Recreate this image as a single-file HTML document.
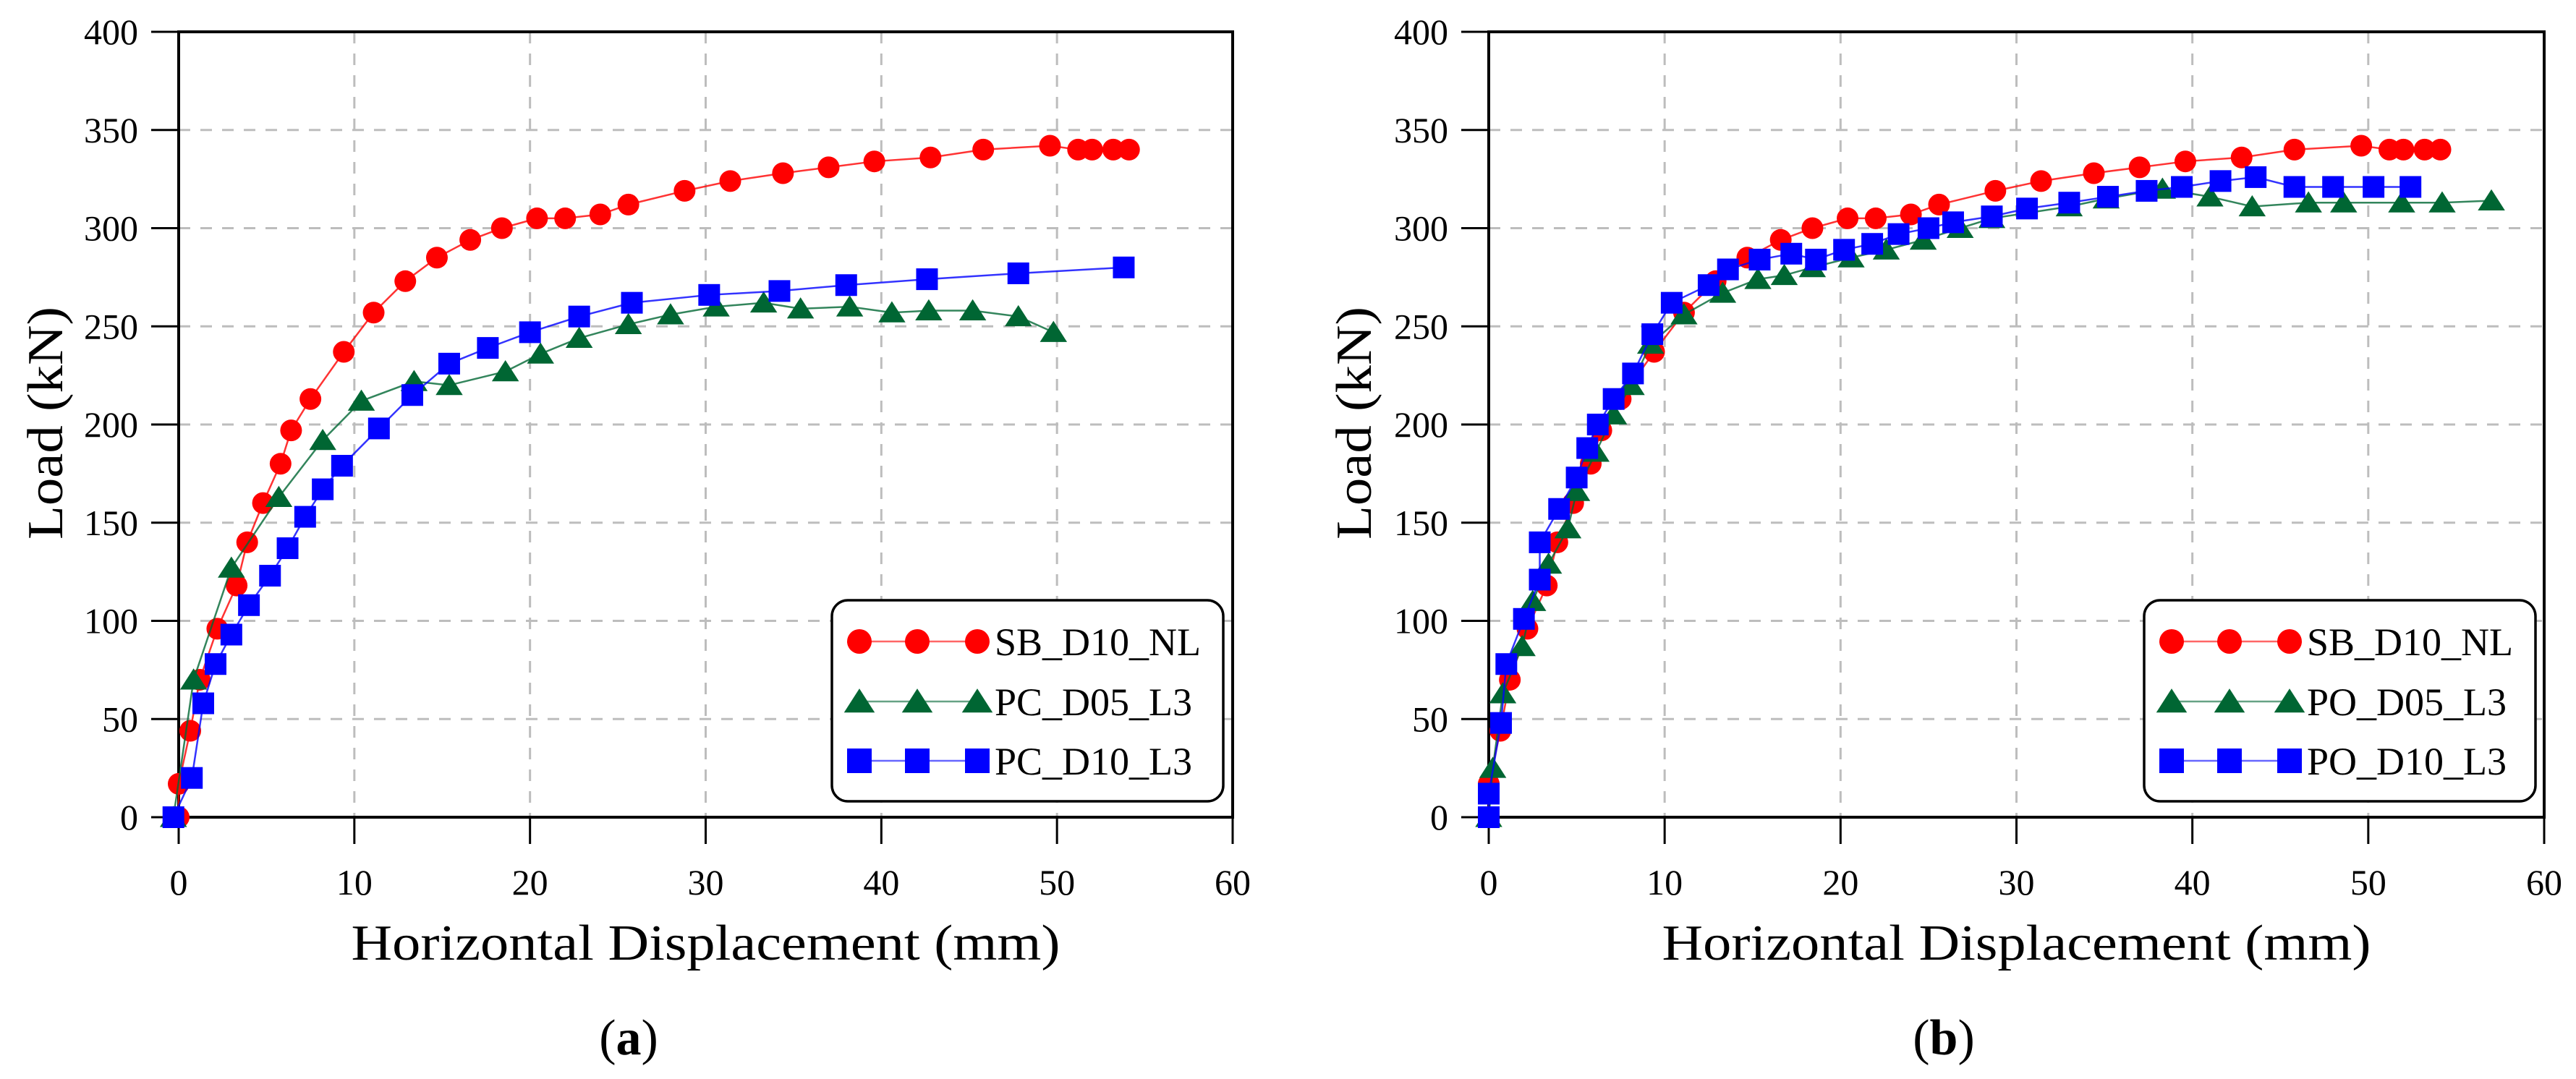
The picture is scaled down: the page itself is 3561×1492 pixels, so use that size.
<!DOCTYPE html>
<html><head><meta charset="utf-8"><style>
html,body{margin:0;padding:0;background:#fff;}
svg{display:block;}
text{font-family:"Liberation Serif",serif;fill:#000;}
</style></head><body>
<svg id="chart" width="3561" height="1492" viewBox="0 0 3561 1492" xmlns="http://www.w3.org/2000/svg"></svg>
<script>
// ---- data ----
const xTicks = [0,10,20,30,40,50,60];
const yTicks = [0,50,100,150,200,250,300,350,400];
const sbX = [0,0,0.66,1.2,2.2,3.3,3.9,4.8,5.8,6.4,7.5,9.4,11.1,12.9,14.7,16.6,18.4,20.4,22,24,25.6,28.8,31.4,34.4,37,39.6,42.8,45.8,49.6,51.2,52,53.2,54.1];
const sbY = [0,17,44,70,96,118,140,160,180,197,213,237,257,273,285,294,300,305,305,307,312,319,324,328,331,334,336,340,342,340,340,340,340];
const pc05X = [-0.3,0.85,3,5.7,8.2,10.4,13.4,15.4,18.6,20.6,22.8,25.6,28,30.6,33.3,35.4,38.2,40.6,42.7,45.2,47.8,49.8];
const pc05Y = [0,70,127,163,192,212,222,220,227,236,244,251,256,260,262,259,260,257,258,258,255,247];
const pc10X = [-0.3,0.75,1.4,2.1,3,4,5.2,6.2,7.2,8.2,9.3,11.4,13.3,15.4,17.6,20,22.8,25.8,30.2,34.2,38,42.6,47.8,53.8];
const pc10Y = [0,20,58,78,93,108,123,137,153,167,179,198,215,231,239,247,255,262,266,268,271,274,277,280];
const po05X = [0,0.23,0.8,1.9,2.5,3.4,4.5,5,6.1,7.1,8.1,9.2,11.1,13.3,15.3,16.8,18.4,20.6,22.6,24.7,26.8,28.6,33,35.1,38.3,41,43.4,46.6,48.6,51.9,54.2,57];
const po05Y = [0,25,63,87,110,129,147,166,186,205,220,241,256,267,274,276,280,285,289,294,300,305,311,315,320,316,311,313,313,313,313,314];
const po10X = [0,0,0.7,1,2,2.9,2.9,4,5,5.6,6.2,7.1,8.2,9.3,10.4,12.5,13.6,15.4,17.2,18.6,20.2,21.8,23.3,25,26.4,28.6,30.6,33,35.2,37.4,39.4,41.6,43.6,45.8,48,50.3,52.4];
const po10Y = [0,12,48,78,101,121,140,157,173,188,200,213,226,246,262,271,279,284,287,284,289,292,297,300,303,306,310,313,316,319,321,324,326,321,321,321,321];

const NS = "http://www.w3.org/2000/svg";
const svg = document.getElementById('chart');
function mk(tag, attrs, parent){
  const e = document.createElementNS(NS, tag);
  for (const k in attrs) e.setAttribute(k, attrs[k]);
  (parent||svg).appendChild(e);
  return e;
}
const Y0 = 1130, Y1 = 44;
const RED = '#ff0000', GREEN = '#006633', BLUE = '#0000ff';

function marker(g, type, cx, cy, color, s){
  let m;
  if (type === 'circle') m = mk('circle', {cx:cx, cy:cy, r:s, fill:color}, g);
  else if (type === 'square') m = mk('rect', {x:cx-s, y:cy-s, width:2*s, height:2*s, fill:color}, g);
  else m = mk('polygon', {points:`${cx},${cy-s*1.05} ${cx-s*1.25},${cy+s*0.9} ${cx+s*1.25},${cy+s*0.9}`, fill:color}, g);
  return m;
}

function panel(id, X0, X1, series, legendX, letter, letterX, yTitleX){
  const sx = v => X0 + (v/60)*(X1-X0);
  const sy = v => Y0 - (v/400)*(Y0-Y1);
  const g = mk('g', {});
  
  
  xTicks.forEach(t => { if (t>0 && t<60) {
    const l = mk('line', {x1:sx(t), x2:sx(t), y1:Y1, y2:Y0, stroke:'#bdbdbd', 'stroke-width':3, 'stroke-dasharray':'16 14'}, g);
    
    
  }});
  yTicks.forEach(t => { if (t>0 && t<400) {
    const l = mk('line', {x1:X0, x2:X1, y1:sy(t), y2:sy(t), stroke:'#bdbdbd', 'stroke-width':3, 'stroke-dasharray':'16 14'}, g);
    
    
  }});
  xTicks.forEach(t => {
    mk('line', {x1:sx(t), x2:sx(t), y1:Y0, y2:Y0+37, stroke:'#000', 'stroke-width':3}, g);
    const tx = mk('text', {x:sx(t), y:1237, 'font-size':50, 'text-anchor':'middle'}, g);
    tx.textContent = t;
    
    
  });
  yTicks.forEach(t => {
    mk('line', {x1:X0-38, x2:X0, y1:sy(t), y2:sy(t), stroke:'#000', 'stroke-width':3}, g);
    const tx = mk('text', {x:X0-56, y:sy(t)+17, 'font-size':50, 'text-anchor':'end'}, g);
    tx.textContent = t;
    
    
  });
  const fr = mk('rect', {x:X0, y:Y1, width:X1-X0, height:Y0-Y1, fill:'none', stroke:'#000', 'stroke-width':4}, g);
  
  
  series.forEach(s => {
    const sg = mk('g', {}, g);
    
    
    const pts = s.x.map((v,i) => sx(v) + ',' + sy(s.y[i])).join(' ');
    mk('polyline', {points:pts, fill:'none', stroke:s.color, 'stroke-width':2.5, 'stroke-opacity':0.8}, sg);
    s.x.forEach((v,i) => {
      const m = marker(sg, s.type, sx(v), sy(s.y[i]), s.color, 15);
      
      
    });
  });
  const lg = mk('g', {}, g);
  
  
  mk('rect', {x:legendX, y:830, width:541, height:278, rx:22, fill:'#fff', stroke:'#000', 'stroke-width':3.5}, lg);
  const rows = [887, 970, 1052];
  series.forEach((s, i) => {
    const eg = mk('g', {}, lg);
    
    
    const y = rows[i];
    const mx = [legendX+38, legendX+118, legendX+201];
    mk('line', {x1:mx[0], x2:mx[2], y1:y, y2:y, stroke:s.color, 'stroke-width':2.5, 'stroke-opacity':0.6}, eg);
    mx.forEach(x => marker(eg, s.type, x, y, s.color, 17));
    const t = mk('text', {x:legendX+225, y:y+19, 'font-size':54}, eg);
    t.textContent = s.name;
  });
  const xt = mk('text', {x:(X0+X1)/2, y:1327, 'font-size':70, 'text-anchor':'middle', textLength:980, lengthAdjust:'spacingAndGlyphs'}, g);
  xt.textContent = 'Horizontal Displacement (mm)';
  
  
  const yt = mk('text', {x:0, y:0, 'font-size':70, 'text-anchor':'middle', textLength:322, lengthAdjust:'spacingAndGlyphs', transform:`translate(${yTitleX},585) rotate(-90)`}, g);
  yt.textContent = 'Load (kN)';
  
  
  const lt = mk('text', {x:letterX, y:1458, 'font-size':70, 'text-anchor':'middle'}, g);
  
  
  const p1 = mk('tspan', {}, lt); p1.textContent = '(';
  const p2 = mk('tspan', {'font-weight':'bold'}, lt); p2.textContent = letter;
  const p3 = mk('tspan', {}, lt); p3.textContent = ')';
}

panel('a', 247, 1704, [
  {name:'SB_D10_NL', x:sbX, y:sbY, color:RED, type:'circle'},
  {name:'PC_D05_L3', x:pc05X, y:pc05Y, color:GREEN, type:'triangle'},
  {name:'PC_D10_L3', x:pc10X, y:pc10Y, color:BLUE, type:'square'}
], 1150, 'a', 869, 86);

panel('b', 2058, 3517, [
  {name:'SB_D10_NL', x:sbX, y:sbY, color:RED, type:'circle'},
  {name:'PO_D05_L3', x:po05X, y:po05Y, color:GREEN, type:'triangle'},
  {name:'PO_D10_L3', x:po10X, y:po10Y, color:BLUE, type:'square'}
], 2964, 'b', 2687, 1895);
</script>
</body></html>
